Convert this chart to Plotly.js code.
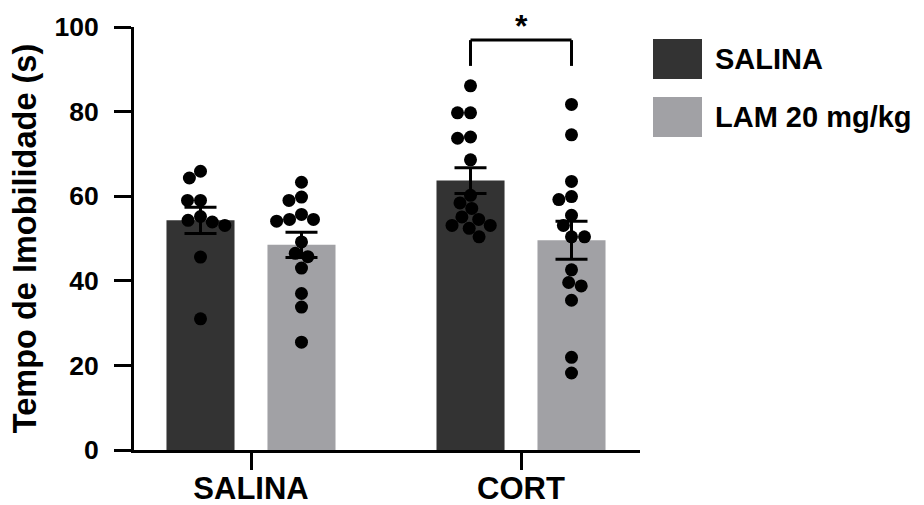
<!DOCTYPE html>
<html>
<head>
<meta charset="utf-8">
<script src="https://cdn.plot.ly/plotly-3.0.1.min.js"></script>
<style>
html,body{margin:0;padding:0;background:#ffffff;}
#chart{width:924px;height:505px;}
</style>
</head>
<body>
<div id="chart"></div>
<script>
// ---------------- DATA ----------------
const groups = ['SALINA', 'CORT'];                 // x tick labels
const seriesNames = ['SALINA', 'LAM 20 mg/kg'];    // legend labels
const salinaMeans = [54.3, 63.7];                  // bar heights, SALINA treatment
const lamMeans = [48.5, 49.6];                     // bar heights, LAM 20 mg/kg treatment
const salinaSem = [3.1, 3.05];
const lamSem = [3.0, 4.5];
const ptsSalinaSalina = [65.9, 64.3, 59.0, 59.0, 55.2, 54.3, 53.9, 53.1, 45.6, 31.0];
const ptsSalinaLam = [63.3, 59.8, 59.0, 55.7, 54.5, 54.5, 54.1, 49.2, 46.5, 45.7, 43.0, 37.0, 33.8, 25.5];
const ptsCortSalina = [86.1, 79.7, 79.7, 74.0, 73.7, 68.6, 60.2, 58.4, 57.1, 55.1, 54.5, 53.1, 53.1, 52.4, 50.4];
const ptsCortLam = [81.7, 74.5, 63.5, 59.9, 59.2, 55.5, 53.1, 50.4, 50.4, 42.6, 39.6, 38.8, 35.4, 21.9, 18.2];
const yTicks = [0, 20, 40, 60, 80, 100];
const sigLabel = '*';

// ---------------- LAYOUT / STYLE ----------------
const W = 924, H = 505;
const M = {l: 134, r: 284, t: 27, b: 55};
const plotW = W - M.l - M.r, plotH = H - M.t - M.b;
const xRange = [-0.4333, 1.4407];
const yRange = [0, 100];
const pxPerX = plotW / (xRange[1] - xRange[0]);
const pxPerY = plotH / (yRange[1] - yRange[0]);
const barOffset = 0.187, barWidth = 0.252;
const colDark = '#333333', colLight = '#a1a1a5';
const FONT = 'Liberation Sans, Arial, Helvetica, sans-serif';
const dotD = 13;

function swarm(vals) {
  const placed = [], out = [];
  vals.forEach(v => {
    const y = v * pxPerY;
    const cands = [0];
    placed.forEach(p => {
      const dy = Math.abs(p.y - y);
      if (dy < dotD) { const dx = Math.sqrt(dotD * dotD - dy * dy); cands.push(p.x + dx, p.x - dx); }
    });
    const ok = cands.filter(c => placed.every(p => Math.hypot(p.x - c, p.y - y) >= dotD - 1e-6));
    ok.sort((a, b) => Math.abs(a) - Math.abs(b) || a - b);
    const x = ok.length ? ok[0] : 0;
    placed.push({x, y}); out.push(x);
  });
  return out.map(px => px / pxPerX);
}

const series = [
  {name: seriesNames[0], means: salinaMeans, sem: salinaSem, pts: [ptsSalinaSalina, ptsCortSalina], color: colDark, sign: -1},
  {name: seriesNames[1], means: lamMeans, sem: lamSem, pts: [ptsSalinaLam, ptsCortLam], color: colLight, sign: 1}
];

const traces = [];
series.forEach(s => {
  traces.push({
    type: 'bar', name: s.name, showlegend: false,
    x: groups.map((g, i) => i + s.sign * barOffset), y: s.means,
    width: groups.map(() => barWidth),
    marker: {color: s.color, line: {width: 0}}
  });
});
series.forEach(s => {
  groups.forEach((g, i) => {
    const offs = swarm(s.pts[i]);
    traces.push({
      type: 'scatter', mode: 'markers', showlegend: false, cliponaxis: false,
      x: s.pts[i].map((v, k) => i + s.sign * barOffset + offs[k]), y: s.pts[i],
      marker: {color: '#000000', size: dotD, line: {width: 0}}
    });
  });
});
series.forEach(s => {
  traces.push({
    type: 'scatter', mode: 'markers', showlegend: false,
    x: groups.map((g, i) => i + s.sign * barOffset), y: s.means,
    marker: {size: 1, color: 'rgba(0,0,0,0)'},
    error_y: {type: 'data', array: s.sem, visible: true, color: '#000000', thickness: 3, width: 16}
  });
});

const px2paperX = px => (px - M.l) / plotW;
const px2paperY = py => (H - M.b - py) / plotH;

const shapes = [];
const annotations = [];
// significance bracket between CORT groups
const bx0 = 1 - barOffset, bx1 = 1 + barOffset, byLow = 90.8, byHigh = 96.9;
shapes.push({type: 'line', xref: 'x', yref: 'y', x0: bx0, x1: bx0, y0: byLow, y1: byHigh, line: {color: '#000', width: 3}});
shapes.push({type: 'line', xref: 'x', yref: 'y', x0: bx0, x1: bx1, y0: byHigh, y1: byHigh, line: {color: '#000', width: 3}});
shapes.push({type: 'line', xref: 'x', yref: 'y', x0: bx1, x1: bx1, y0: byLow, y1: byHigh, line: {color: '#000', width: 3}});
annotations.push({xref: 'x', yref: 'y', x: 1, y: byHigh, text: sigLabel, showarrow: false,
  xanchor: 'center', yanchor: 'bottom', yshift: -6, font: {family: FONT, size: 32, color: '#000', weight: 'bold'}});

// legend (manual, large swatches)
series.forEach((s, k) => {
  const top = 39 + k * 58, bot = top + 40;
  shapes.push({type: 'rect', xref: 'paper', yref: 'paper', x0: px2paperX(653), x1: px2paperX(702),
    y0: px2paperY(bot), y1: px2paperY(top), fillcolor: s.color, line: {width: 0}});
  annotations.push({xref: 'paper', yref: 'paper', x: px2paperX(713), y: px2paperY((top + bot) / 2),
    text: s.name, showarrow: false, xanchor: 'left', yanchor: 'middle',
    font: {family: FONT, size: 29, color: '#000', weight: 'bold'}});
});

const layout = {
  width: W, height: H,
  margin: M,
  paper_bgcolor: '#ffffff', plot_bgcolor: '#ffffff',
  barmode: 'overlay',
  showlegend: false,
  font: {family: FONT, color: '#000'},
  xaxis: {
    range: xRange, tickvals: groups.map((g, i) => i), ticktext: groups,
    ticks: 'outside', ticklen: 17, tickwidth: 3, tickcolor: '#000',
    showline: true, linewidth: 3, linecolor: '#000', showgrid: false, zeroline: false,
    tickfont: {family: FONT, size: 31, color: '#000', weight: 'bold'},
    ticklabelstandoff: -8, automargin: false, fixedrange: true
  },
  yaxis: {
    range: yRange, tickvals: yTicks, ticktext: yTicks.map(String),
    ticks: 'outside', ticklen: 17, tickwidth: 3, tickcolor: '#000',
    showline: true, linewidth: 3, linecolor: '#000', showgrid: false, zeroline: false,
    tickfont: {family: FONT, size: 26.5, color: '#000', weight: 'bold'},
    ticklabelstandoff: 10,
    title: {text: 'Tempo de Imobilidade (s)', font: {family: FONT, size: 32.5, color: '#000', weight: 'bold'}, standoff: 9},
    automargin: false, fixedrange: true
  },
  shapes: shapes,
  annotations: annotations
};

Plotly.newPlot('chart', traces, layout, {displayModeBar: false, staticPlot: true});
</script>
</body>
</html>
